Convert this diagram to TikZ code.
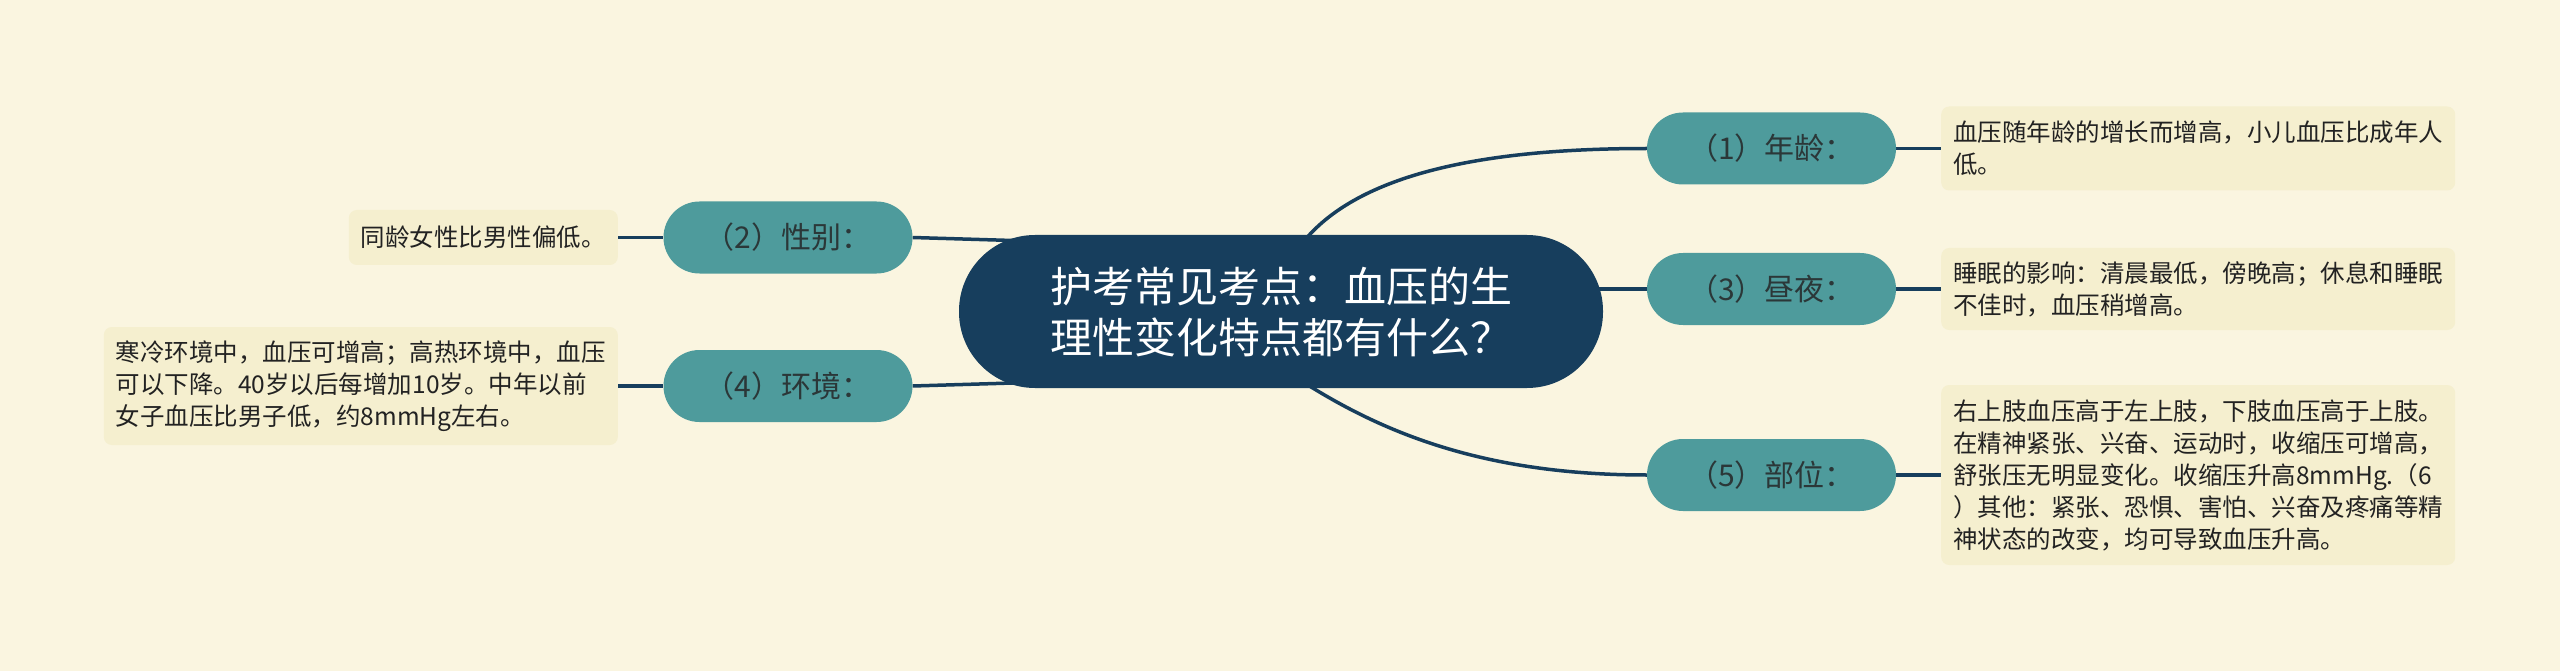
\documentclass[tikz,border=0pt]{standalone}
\usepackage{fontspec}
\setmainfont{Noto Sans CJK SC}
\usetikzlibrary{calc}
\definecolor{paperbg}{HTML}{FAF5E0}
\definecolor{hubnavy}{HTML}{173E5D}
\definecolor{pillteal}{HTML}{4E9B9C}
\definecolor{pilltext}{HTML}{2B3738}
\definecolor{notebg}{HTML}{F5EFCF}
\definecolor{notetext}{HTML}{222222}
\pgfdeclarelayer{paper}
\pgfdeclarelayer{links}
\pgfsetlayers{paper,links,main}
\tikzset{
  hub/.style={fill=hubnavy, text=white, rounded corners=76pt, minimum width=644pt,
    minimum height=153pt, inner sep=0pt, align=left, font=\fontsize{42}{51}\selectfont},
  pill/.style={fill=pillteal, text=pilltext, rounded corners=36pt, minimum width=249pt,
    minimum height=72pt, inner sep=0pt, font=\fontsize{30}{36}\selectfont},
  note/.style={fill=notebg, text=notetext, rounded corners=8pt, align=left,
    inner xsep=12pt, inner ysep=0pt, font=\fontsize{24.5}{32}\selectfont},
  link/.style={draw=hubnavy, line width=3.5pt}
}
\begin{document}
\begin{tikzpicture}[x=1pt,y=-1pt]
\begin{pgfonlayer}{paper}
\fill[paperbg] (0,0) rectangle (2560,671);
\end{pgfonlayer}
\useasboundingbox (0,0) rectangle (2560,671);

\node[hub] (c) at (1281,311.5) {护考常见考点：血压的生\\理性变化特点都有什么？};

\node[pill] (p1) at (1771.5,148.5) {（1）年龄：};
\node[pill] (p3) at (1771.5,289) {（3）昼夜：};
\node[pill] (p5) at (1771.5,475) {（5）部位：};
\node[pill] (p2) at (788,237.5) {（2）性别：};
\node[pill] (p4) at (788,386) {（4）环境：};

\node[note, anchor=west, minimum height=84pt] (b1) at (1941,148.5)
  {血压随年龄的增长而增高，小儿血压比成年人\\低。};
\node[note, anchor=west, minimum height=82pt] (b3) at (1941,289)
  {睡眠的影响：清晨最低，傍晚高；休息和睡眠\\不佳时，血压稍增高。};
\node[note, anchor=west, minimum height=180pt] (b5) at (1941,475)
  {右上肢血压高于左上肢，下肢血压高于上肢。\\在精神紧张、兴奋、运动时，收缩压可增高，\\舒张压无明显变化。收缩压升高8mmHg.（6\\）其他：紧张、恐惧、害怕、兴奋及疼痛等精\\神状态的改变，均可导致血压升高。};
\node[note, anchor=east, minimum height=55pt] (b2) at (618,237.5)
  {同龄女性比男性偏低。};
\node[note, anchor=east, minimum height=118pt] (b4) at (618,386)
  {寒冷环境中，血压可增高；高热环境中，血压\\可以下降。40岁以后每增加10岁。中年以前\\女子血压比男子低，约8mmHg左右。};

\begin{pgfonlayer}{links}
\draw[link] ($(c.north)+(24,5)$) .. controls +(55,-65) and +(-167,0) .. (p1.west);
\draw[link] ($(c.south)+(24,-5)$) .. controls +(75,47) and +(-167,0) .. (p5.west);
\draw[link] (p3.west) -- ++(-80,0);
\draw[link] (p2.east) -- ++(100,3);
\draw[link] (p4.east) -- ++(100,-3);
\draw[link] (p1.east) -- (b1.west);
\draw[link] (p3.east) -- (b3.west);
\draw[link] (p5.east) -- (b5.west);
\draw[link] (b2.east) -- (p2.west);
\draw[link] (b4.east) -- (p4.west);
\end{pgfonlayer}
\end{tikzpicture}
\end{document}
